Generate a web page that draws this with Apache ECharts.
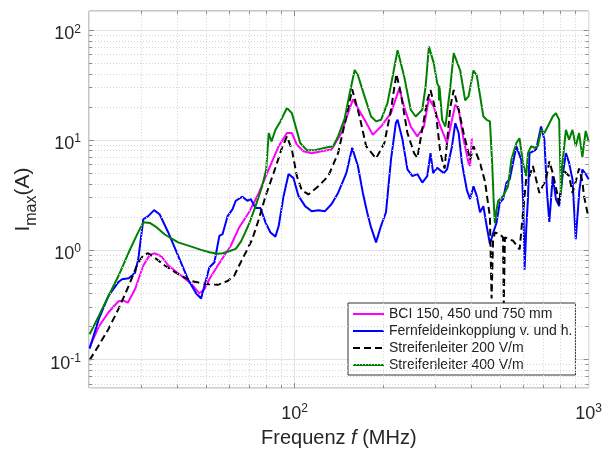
<!DOCTYPE html>
<html>
<head>
<meta charset="utf-8">
<script src="https://cdn.jsdelivr.net/npm/echarts@6/dist/echarts.min.js"></script>
<style>
html, body { margin: 0; padding: 0; background: #fff; }
#char { width: 605px; height: 453px; }
</style>
</head>
<body>
<div id="char"></div>
<script>
// Frequenz (MHz), Strom (A)
var names = ['BCI 150, 450 und 750 mm', 'Fernfeldeinkopplung v. und h.', 'Streifenleiter 200 V/m', 'Streifenleiter 400 V/m'];

var bciData = [[20.1,0.13],[21.6,0.2],[23.3,0.27],[25.2,0.34],[26.2,0.345],[27.1,0.33],[28.7,0.44],[30.6,0.72],[32.2,0.9],[33.5,0.93],[35.3,0.87],[37.2,0.72],[41.2,0.58],[44.6,0.49],[47.5,0.4],[49.4,0.44],[51.3,0.54],[54.8,0.72],[60.7,1.09],[64.8,1.6],[70,2.2],[75.6,3.3],[81.7,5.4],[88.3,8.8],[94.2,11.6],[97.9,11.6],[101.8,9.1],[107.2,7.9],[114.3,7.6],[123.6,7.9],[133.5,8.2],[144.3,11.6],[152,17.6],[158,23.5],[164,19.6],[173,15.3],[184.5,11.2],[196.8,13.3],[212.7,17.6],[227,29.6],[235.9,20],[248.3,13.3],[261.5,10.8],[275.4,13.3],[286.3,24],[297.6,20],[313.3,13.3],[330,9.4],[343.1,15.3],[352,21],[361.4,19],[375.6,10.1],[390.5,6.2],[395.4,5.8],[400.6,10.4]];

var fernData = [[20.1,0.126],[21.6,0.235],[23.3,0.38],[25.2,0.51],[25.9,0.54],[27.3,0.55],[28.7,0.62],[29.4,0.82],[30.6,1.9],[31.8,2.03],[33.3,2.3],[34.8,2.1],[37.2,1.44],[40.2,0.88],[43.4,0.54],[46.3,0.4],[48.1,0.36],[49.4,0.47],[51.3,0.69],[53.4,0.77],[55.5,1.34],[56.9,1.39],[59.2,2.03],[61.5,2.34],[63.1,2.8],[66.5,3.05],[69.1,2.8],[70.9,2.9],[73.7,2.4],[76.6,2.4],[79.7,1.77],[82.8,1.44],[86.1,1.32],[88.3,1.65],[91.8,3.1],[95.4,4.9],[99.2,4.5],[103.1,3.1],[108.6,2.5],[114.3,2.25],[120.5,2.3],[126.9,2.25],[133.5,2.6],[140.6,3.3],[150,5],[157,8.5],[164.2,5.8],[170.7,3.3],[176.5,2.2],[182,1.6],[189.3,1.17],[196,1.6],[204.6,2.2],[212.7,6.6],[221,14.3],[224,15.3],[232.8,10.1],[242,5.4],[251.6,4.7],[261.5,4.9],[271.8,4.1],[282.6,4.7],[289.9,7.6],[296,5],[305.4,5.6],[321.7,5],[330,5.4],[343.1,8.8],[352,14.3],[361.4,11.6],[370.7,6.2],[385.4,3.5],[395.4,2.9],[405.9,3.8],[416.4,3.1],[427.2,2.2],[438.6,2.5],[450,1.65],[461.6,1.13],[474,1.44],[486.2,1.77],[498.8,2.7],[512,2.9],[525.4,4.1],[539,4.4],[567.7,8.8],[590.2,6.6],[600,2.5],[605.5,0.66],[613.5,1.54],[621.6,2.9],[629.4,7.6],[663,8.2],[689,13.3],[707,10.1],[722,3.3],[735,1.8],[755,4.7],[774,2.9],[794,2.5],[815,4.7],[837,7.6],[858,6.2],[881,4.4],[904,1.25],[930,3.5],[952,5.4],[977,4.9],[1000,4.4]];

var s200Data = [[20.1,0.099],[21.6,0.135],[23.3,0.19],[25.2,0.29],[27.3,0.47],[29.1,0.72],[30.6,0.9],[31.8,0.93],[34,0.82],[36.2,0.72],[40.2,0.6],[44.6,0.52],[49.4,0.49],[54.8,0.48],[59.2,0.52],[62.3,0.58],[64.8,0.72],[68.3,0.95],[71.8,1.25],[75.6,1.9],[79.7,3.1],[86.1,5.6],[90.6,8.5],[94.2,10.8],[97.9,8.2],[101.8,4.7],[105.8,3.5],[111.5,3.2],[120.5,3.8],[130.2,4.7],[140.6,7.6],[150,16.4],[157,29],[166.4,16.4],[175.1,8.8],[189.3,6.8],[202,9.4],[212.7,18.9],[222,40],[229.8,26.7],[242,11.6],[254.9,7.6],[261.5,6.9],[282.6,23],[289.9,28.6],[301.4,18.9],[313.3,7.6],[323.7,5.5],[338.6,20],[347.6,28.6],[361.4,19],[375.6,11.6],[395.4,6.6],[405.9,8.8],[427.2,6.2],[444.1,4.2],[461.6,2],[467.7,0.36],[473,1.2],[479.8,1.44],[498.8,1.39],[511.5,1.3],[514.5,0.32],[519,1.3],[525.4,1.34],[553.4,1.21],[582.5,1.01],[598.1,2.2],[613.5,4.5],[629.4,4.7],[646,5.8],[680,3.3],[716.5,4.4],[735,6.4],[755,5],[784.5,3.1],[794,2.6],[815,5.4],[858,4.7],[881,3.3],[904,4.2],[928,5.5],[952,4.2],[964,3.1],[990,2.2],[1000,2]];

var s400Data = [[20.1,0.17],[21.6,0.25],[23.3,0.38],[25.2,0.58],[27.3,0.95],[29.4,1.45],[30.6,1.78],[32.2,1.76],[34,1.6],[36.2,1.38],[40.2,1.17],[44.6,1.07],[48.1,1.0],[51.3,0.95],[54.8,0.92],[57,0.93],[59.9,0.97],[63.1,1.02],[65.6,1.18],[67.3,1.36],[70,1.72],[73.7,2.5],[77.6,3.8],[80.1,5.4],[81.7,11.6],[83.5,9.7],[86.1,12.4],[89.5,14.8],[94.2,19.6],[97.9,17.6],[100.5,13.8],[104.5,9.4],[110,8.1],[117.4,8.1],[126.9,8.5],[135.3,8.8],[140.6,10.8],[148.1,15.8],[154,26.7],[160.1,43.5],[164.2,39],[173,25],[182,16.4],[189.3,14.8],[196.8,15.3],[207,21.7],[215.4,37.8],[224,66],[235.9,38],[248.3,18.9],[258.1,16.4],[271.8,18.9],[278.9,30.6],[286.3,71],[297.6,50],[305.4,33],[309,31],[310,23],[311,31],[317.5,15.3],[325.7,13.3],[338.6,30.6],[347.6,62],[365.9,43],[380.3,23],[390.5,25],[405.9,43],[416.4,39],[438.6,16.4],[450,15.3],[461.6,14.8],[470,6],[476,2.6],[479.8,1.75],[486,2.3],[492.6,2.8],[512,3.1],[532,3.8],[546,6.6],[568,9.4],[582,10.4],[598,6.2],[613,4.7],[622,7.6],[638,8.8],[654,8.5],[672,8.8],[689,12.4],[707,11.6],[726,13.3],[755,16.4],[774,17.6],[794,15.3],[805,3.3],[815,6.2],[837,12.4],[858,10.1],[881,12.4],[904,8.8],[928,11.6],[952,7],[977,12.1],[1000,9.7]];

// Achsen / Gitter
var xMin = 20, xMax = 1000, yMin = 0.055, yMax = 150;
var xMajor = [100];
var xMinor = [30, 40, 50, 60, 70, 80, 90, 200, 300, 400, 500, 600, 700, 800, 900];
var yMajor = [0.1, 1, 10, 100];
var yMinor = [0.06, 0.07, 0.08, 0.09, 0.2, 0.3, 0.4, 0.5, 0.6, 0.7, 0.8, 0.9,
              2, 3, 4, 5, 6, 7, 8, 9, 20, 30, 40, 50, 60, 70, 80, 90];

var gridLeft = 89, gridTop = 11, gridW = 504, gridH = 378;
var fontName = 'Liberation Sans';

function powLabel(v) {
    var e = Math.round(Math.log(v) / Math.LN10);
    var p = Math.pow(10, e);
    if (Math.abs(v - p) / p > 1e-6) return '';
    return '{b|10}{s|' + e + '}';
}

var labelRich = {
    b: { fontSize: 18, fontFamily: fontName, color: '#262626', padding: [8, 0, 0, 0] },
    s: { fontSize: 12, fontFamily: fontName, color: '#262626', verticalAlign: 'top', padding: [6, 0, 0, 0] }
};

// kleine Striche an allen vier Seiten (innen)
function tickSegments() {
    var pxX = gridW / Math.log10(xMax / xMin);
    var pxY = gridH / Math.log10(yMax / yMin);
    var segs = [];
    function addX(v, len) {
        var k = Math.pow(10, len / pxY);
        segs.push([{ coord: [v, yMin] }, { coord: [v, yMin * k] }]);
        segs.push([{ coord: [v, yMax] }, { coord: [v, yMax / k] }]);
    }
    function addY(v, len) {
        var k = Math.pow(10, len / pxX);
        segs.push([{ coord: [xMin, v] }, { coord: [xMin * k, v] }]);
        segs.push([{ coord: [xMax, v] }, { coord: [xMax / k, v] }]);
    }
    xMinor.forEach(function (v) { addX(v, 3); });
    xMajor.forEach(function (v) { addX(v, 5); });
    yMinor.forEach(function (v) { addY(v, 3); });
    yMajor.forEach(function (v) { addY(v, 5); });
    return segs;
}

var minorGrid = [];
xMinor.forEach(function (v) { minorGrid.push({ xAxis: v }); });
yMinor.forEach(function (v) { minorGrid.push({ yAxis: v }); });

function dataSeries(name, data, color, dashed) {
    return {
        name: name,
        type: 'line',
        data: data,
        symbol: 'none',
        z: 3,
        lineStyle: { color: color, width: 2, type: dashed ? [7, 4] : 'solid' },
        itemStyle: { color: color },
        emphasis: { disabled: true }
    };
}

var chart = echarts.init(document.getElementById('char'));

var option = {
    animation: false,
    backgroundColor: '#fff',
    grid: {
        left: gridLeft, top: gridTop, width: gridW, height: gridH,
        show: true, borderColor: '#8c8c8c', borderWidth: 1, backgroundColor: '#fff'
    },
    legend: {
        data: names,
        orient: 'vertical',
        left: 348,
        top: 303,
        itemWidth: 31,
        itemHeight: 14,
        itemGap: 3,
        padding: [4, 3, 3, 4],
        backgroundColor: '#fff',
        borderColor: '#333',
        borderWidth: 1,
        itemStyle: { opacity: 0, borderWidth: 0 },
        lineStyle: { width: 2 },
        textStyle: { fontSize: 14, fontFamily: fontName, color: '#222' }
    },
    xAxis: {
        type: 'log',
        logBase: 10,
        min: xMin,
        max: xMax,
        name: '{n|Frequenz }{f|f}{n| (MHz)}',
        nameLocation: 'middle',
        nameGap: 38,
        nameTextStyle: {
            rich: {
                n: { fontSize: 20, fontFamily: fontName, color: '#262626' },
                f: { fontSize: 20, fontFamily: fontName, color: '#262626', fontStyle: 'italic' }
            }
        },
        axisLine: { show: false },
        axisTick: { show: false },
        axisLabel: { margin: 9, formatter: powLabel, rich: labelRich },
        splitLine: { show: true, lineStyle: { color: '#e2e2e2', width: 1 } }
    },
    yAxis: {
        type: 'log',
        logBase: 10,
        min: yMin,
        max: yMax,
        name: '{i|I}{s|max}{a|(A)}',
        nameLocation: 'middle',
        nameGap: 41,
        nameTextStyle: {
            rich: {
                i: { fontSize: 21, fontFamily: fontName, color: '#262626' },
                s: { fontSize: 16, fontFamily: fontName, color: '#262626', verticalAlign: 'bottom', padding: [16, 0, 0, 0] },
                a: { fontSize: 21, fontFamily: fontName, color: '#262626' }
            }
        },
        axisLine: { show: false },
        axisTick: { show: false },
        axisLabel: { margin: 8, formatter: powLabel, rich: labelRich },
        splitLine: { show: true, lineStyle: { color: '#e2e2e2', width: 1 } }
    },
    series: [
        {
            name: 'minorGrid',
            type: 'line',
            data: [],
            z: 1,
            markLine: {
                silent: true,
                symbol: ['none', 'none'],
                label: { show: false },
                lineStyle: { color: '#d4d4d4', width: 1, type: [1, 2] },
                emphasis: { disabled: true },
                data: minorGrid
            }
        },
        {
            name: 'ticks',
            type: 'line',
            data: [],
            z: 5,
            markLine: {
                silent: true,
                symbol: ['none', 'none'],
                label: { show: false },
                lineStyle: { color: '#8c8c8c', width: 1, type: 'solid' },
                emphasis: { disabled: true },
                data: tickSegments()
            }
        },
        dataSeries(names[0], bciData, '#ff00ff', false),
        dataSeries(names[1], fernData, '#0000ff', false),
        dataSeries(names[2], s200Data, '#000000', true),
        dataSeries(names[3], s400Data, '#008000', false)
    ]
};

chart.setOption(option);
</script>
</body>
</html>
